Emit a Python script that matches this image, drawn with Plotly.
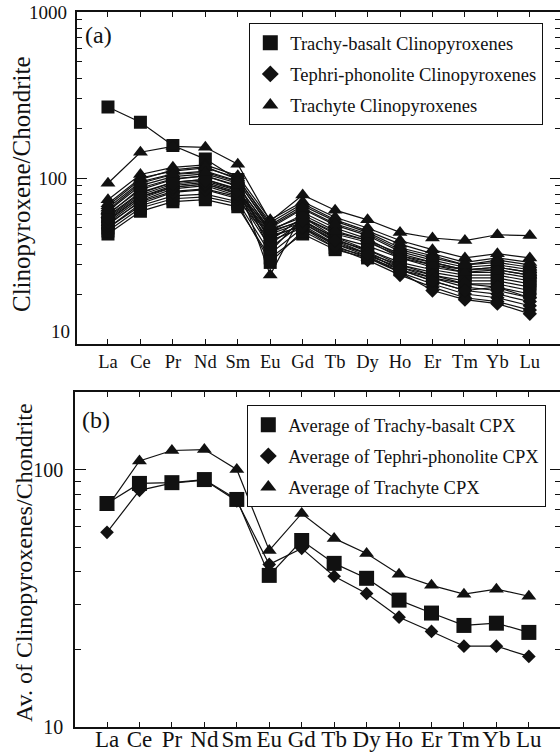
import plotly.graph_objects as go

# Rare-earth elements in order of atomic number
elements = ["La", "Ce", "Pr", "Nd", "Sm", "Eu", "Gd", "Tb", "Dy", "Ho", "Er", "Tm", "Yb", "Lu"]

# (a) Individual clinopyroxene analyses, chondrite-normalised
trachybasalt_cpx = [
    [268, 217, 157, 130, 98, 36, 58, 47, 42, 35, 31, 28, 29, 27],
    [46, 63, 72, 74, 67, 33, 46, 37, 33, 28, 25, 23, 23, 21],
    [50, 68, 78, 80, 72, 35, 50, 40, 35, 30, 27, 25, 25, 23],
    [53, 72, 83, 86, 77, 38, 53, 42, 37, 31, 28, 26, 26, 24],
    [56, 77, 88, 92, 81, 40, 55, 44, 39, 33, 29, 27, 27, 25],
    [59, 82, 94, 98, 86, 42, 58, 46, 41, 34, 30, 28, 28, 26],
    [48, 66, 75, 77, 70, 31, 48, 38, 34, 29, 26, 24, 24, 22],
]
tephriphonolite_cpx = [
    [50, 70, 82, 85, 75, 42, 50, 38, 32, 26, 22, 19, 18, 16],
    [52, 73, 86, 90, 78, 44, 52, 40, 34, 27, 23, 20, 19, 17],
    [55, 77, 90, 94, 82, 46, 54, 41, 35, 28, 24, 21, 20, 18],
    [58, 81, 94, 98, 85, 47, 56, 43, 36, 29, 25, 22, 21, 19],
    [61, 85, 98, 103, 89, 49, 58, 44, 37, 30, 26, 23, 22, 20],
    [54, 75, 88, 92, 80, 45, 51, 39, 33, 27, 21, 18.5, 17.5, 15.2],
    [57, 79, 92, 96, 84, 48, 55, 42, 35, 28, 24, 21, 22, 19],
]
trachyte_cpx = [
    [93, 143, 155, 153, 121, 55, 79, 64, 56, 47, 43.5, 42, 45.5, 45],
    [74, 105, 116, 120, 103, 56, 72, 58, 50, 42, 37, 33, 35, 33],
    [70, 100, 110, 115, 100, 52, 68, 55, 47, 38, 34, 30, 32, 30],
    [66, 95, 106, 110, 96, 50, 65, 52, 45, 36, 32, 29, 30, 28],
    [63, 90, 102, 106, 93, 26, 62, 50, 43, 34, 31, 28, 29, 27],
    [68, 98, 112, 117, 98, 54, 70, 56, 48, 40, 35, 31, 33, 31],
    [60, 87, 99, 103, 90, 48, 60, 48, 42, 33, 30, 27, 28, 26],
    [64, 93, 105, 108, 95, 51, 66, 53, 46, 37, 33, 30, 31, 29],
]

# (b) Averages per host rock
avg_trachybasalt = [73.8, 88.3, 88.9, 91.4, 76.5, 38.8, 53, 43.2, 37.8, 31.1, 27.7, 24.8, 25.3, 23.3]
avg_tephriphonolite = [57, 83, 88.5, 91, 75.5, 42.8, 49.4, 38.5, 33, 26.7, 23.5, 20.6, 20.6, 18.8]
avg_trachyte = [71.3, 108, 118.5, 119.5, 100, 48.5, 67.5, 54, 47.2, 39.2, 35.5, 32.8, 34.3, 32.2]

legend_a = ["Trachy-basalt Clinopyroxenes", "Tephri-phonolite Clinopyroxenes", "Trachyte Clinopyroxenes"]
legend_b = ["Average of Trachy-basalt CPX", "Average of Tephri-phonolite CPX", "Average of Trachyte CPX"]

W, H = 560, 752
SERIF = "Liberation Serif"
INK = "#111111"


def px(x):
    return x / W


def py(y):
    return 1 - y / H


fig = go.Figure()

# ---- panel (a): every analysis as its own line ----
groups_a = [
    (trachybasalt_cpx, "square", 13),
    (tephriphonolite_cpx, "diamond", 11),
    (trachyte_cpx, "triangle-up", 13),
]
for rows, symbol, size in groups_a:
    for row in rows:
        fig.add_trace(go.Scatter(
            x=elements, y=row, mode="lines+markers", xaxis="x", yaxis="y",
            line=dict(color=INK, width=1.2),
            marker=dict(symbol=symbol, size=size, color=INK, line=dict(width=0)),
            showlegend=False, hoverinfo="skip",
        ))

LEGEND_SIZE = {"square": 15, "diamond": 13, "triangle-up": 14}

# legend entries for panel (a)
for name, (rows, symbol, size) in zip(legend_a, groups_a):
    fig.add_trace(go.Scatter(
        x=[None], y=[None], mode="markers", xaxis="x", yaxis="y", name=name,
        marker=dict(symbol=symbol, size=LEGEND_SIZE[symbol], color=INK, line=dict(width=0)),
        legend="legend", legendgroup=name,
    ))

# ---- panel (b): averages ----
groups_b = [
    (avg_trachyte, "triangle-up", 13),
    (avg_tephriphonolite, "diamond", 10.5),
    (avg_trachybasalt, "square", 15),
]
for vals, symbol, size in groups_b:
    fig.add_trace(go.Scatter(
        x=elements, y=vals, mode="lines+markers", xaxis="x2", yaxis="y2",
        line=dict(color=INK, width=1.2),
        marker=dict(symbol=symbol, size=size, color=INK, line=dict(width=0)),
        showlegend=False, hoverinfo="skip",
    ))

for name, symbol in zip(legend_b, ["square", "diamond", "triangle-up"]):
    fig.add_trace(go.Scatter(
        x=[None], y=[None], mode="markers", xaxis="x2", yaxis="y2", name=name,
        marker=dict(symbol=symbol, size=LEGEND_SIZE[symbol], color=INK, line=dict(width=0)),
        legend="legend2", legendgroup=name,
    ))

# invisible traces so the right-hand tick axes are laid out
fig.add_trace(go.Scatter(x=[None], y=[None], xaxis="x", yaxis="y3", showlegend=False, hoverinfo="skip"))
fig.add_trace(go.Scatter(x=[None], y=[None], xaxis="x2", yaxis="y4", showlegend=False, hoverinfo="skip"))

minor_vals = [k * 10 ** e for e in (1, 2) for k in range(2, 10)]


def xaxis(domain, rng, anchor, fsize, standoff):
    return dict(
        domain=domain, anchor=anchor, type="category", categoryorder="array", categoryarray=elements,
        range=rng, showline=True, linecolor=INK, linewidth=1.6, mirror="ticks",
        ticks="inside", ticklen=5, tickwidth=1.2, tickcolor=INK,
        tickfont=dict(family=SERIF, size=fsize, color=INK), ticklabelstandoff=standoff,
        showgrid=False, zeroline=False, automargin=False, fixedrange=True,
    )


def yaxis(domain, rng, anchor, ticktext, fsize, standoff):
    return dict(
        domain=domain, type="log", range=rng, anchor=anchor,
        showline=True, linecolor=INK, linewidth=1.6,
        ticks="inside", ticklen=11, tickwidth=1.2, tickcolor=INK,
        tickmode="array", tickvals=[10, 100, 1000], ticktext=ticktext,
        minor=dict(tickmode="array", tickvals=minor_vals, ticks="inside", ticklen=6,
                   tickwidth=1.1, tickcolor=INK, showgrid=False),
        tickfont=dict(family=SERIF, size=fsize, color=INK), ticklabelstandoff=standoff,
        showgrid=False, zeroline=False, automargin=False, fixedrange=True,
    )


def right_axis(over, anchor, rng):
    return dict(
        overlaying=over, anchor=anchor, side="right", type="log", range=rng,
        showline=False, showticklabels=False,
        ticks="inside", ticklen=10, tickwidth=1.2, tickcolor=INK,
        tickmode="array", tickvals=[10, 100, 1000],
        minor=dict(tickmode="array", tickvals=minor_vals, ticks="inside", ticklen=5,
                   tickwidth=1.1, tickcolor=INK, showgrid=False),
        showgrid=False, zeroline=False, fixedrange=True,
    )


dom_a_y = [py(344), py(12)]
dom_b_y = [py(727), py(392)]

leg_common = dict(
    bgcolor="white", bordercolor=INK, borderwidth=1.3,
    font=dict(family=SERIF, size=18.5, color=INK),
    xanchor="left", yanchor="top", tracegroupgap=4, itemsizing="trace",
)

fig.update_layout(
    width=W, height=H,
    margin=dict(l=0, r=0, t=0, b=0),
    paper_bgcolor="white", plot_bgcolor="white",
    showlegend=True,
    xaxis=xaxis([px(76.5), 1.0], [-0.97, 13.93], "y", 18.5, 0),
    yaxis=yaxis(dom_a_y, [1, 3], "x", ["", "100", "1000"], 19, 4),
    yaxis3=right_axis("y", "x", [1, 3]),
    xaxis2=xaxis([px(75), 1.0], [-0.986, 13.96], "y2", 23, -9),
    yaxis2=yaxis(dom_b_y, [1, 2.301], "x2", ["10", "100", "1000"], 20, 6),
    yaxis4=right_axis("y2", "x2", [1, 2.301]),
    legend=dict(leg_common, x=px(249), y=py(23)),
    legend2=dict(leg_common, x=px(247), y=py(405)),
)

annotations = [
    # panel letters
    dict(text="(a)", x=px(98), y=py(35), font=dict(family=SERIF, size=24, color=INK)),
    dict(text="(b)", x=px(96), y=py(420), font=dict(family=SERIF, size=24, color=INK)),
    # axis titles
    dict(text="Clinopyroxene/Chondrite", x=px(22), y=py(184), textangle=-90,
         font=dict(family=SERIF, size=25, color=INK)),
    dict(text="Av. of Clinopyroxenes/Chondrite", x=px(24), y=py(563), textangle=-90,
         font=dict(family=SERIF, size=24, color=INK)),
    # bottom label of panel (a), lifted clear of the corner
    dict(text="10", x=px(72), y=py(332), xanchor="right",
         font=dict(family=SERIF, size=19, color=INK)),
]
for a in annotations:
    a.setdefault("xref", "paper")
    a.setdefault("yref", "paper")
    a.setdefault("showarrow", False)
    a.setdefault("xanchor", "center")
    a.setdefault("yanchor", "middle")
fig.update_layout(annotations=annotations)

fig.write_html("out.html")
